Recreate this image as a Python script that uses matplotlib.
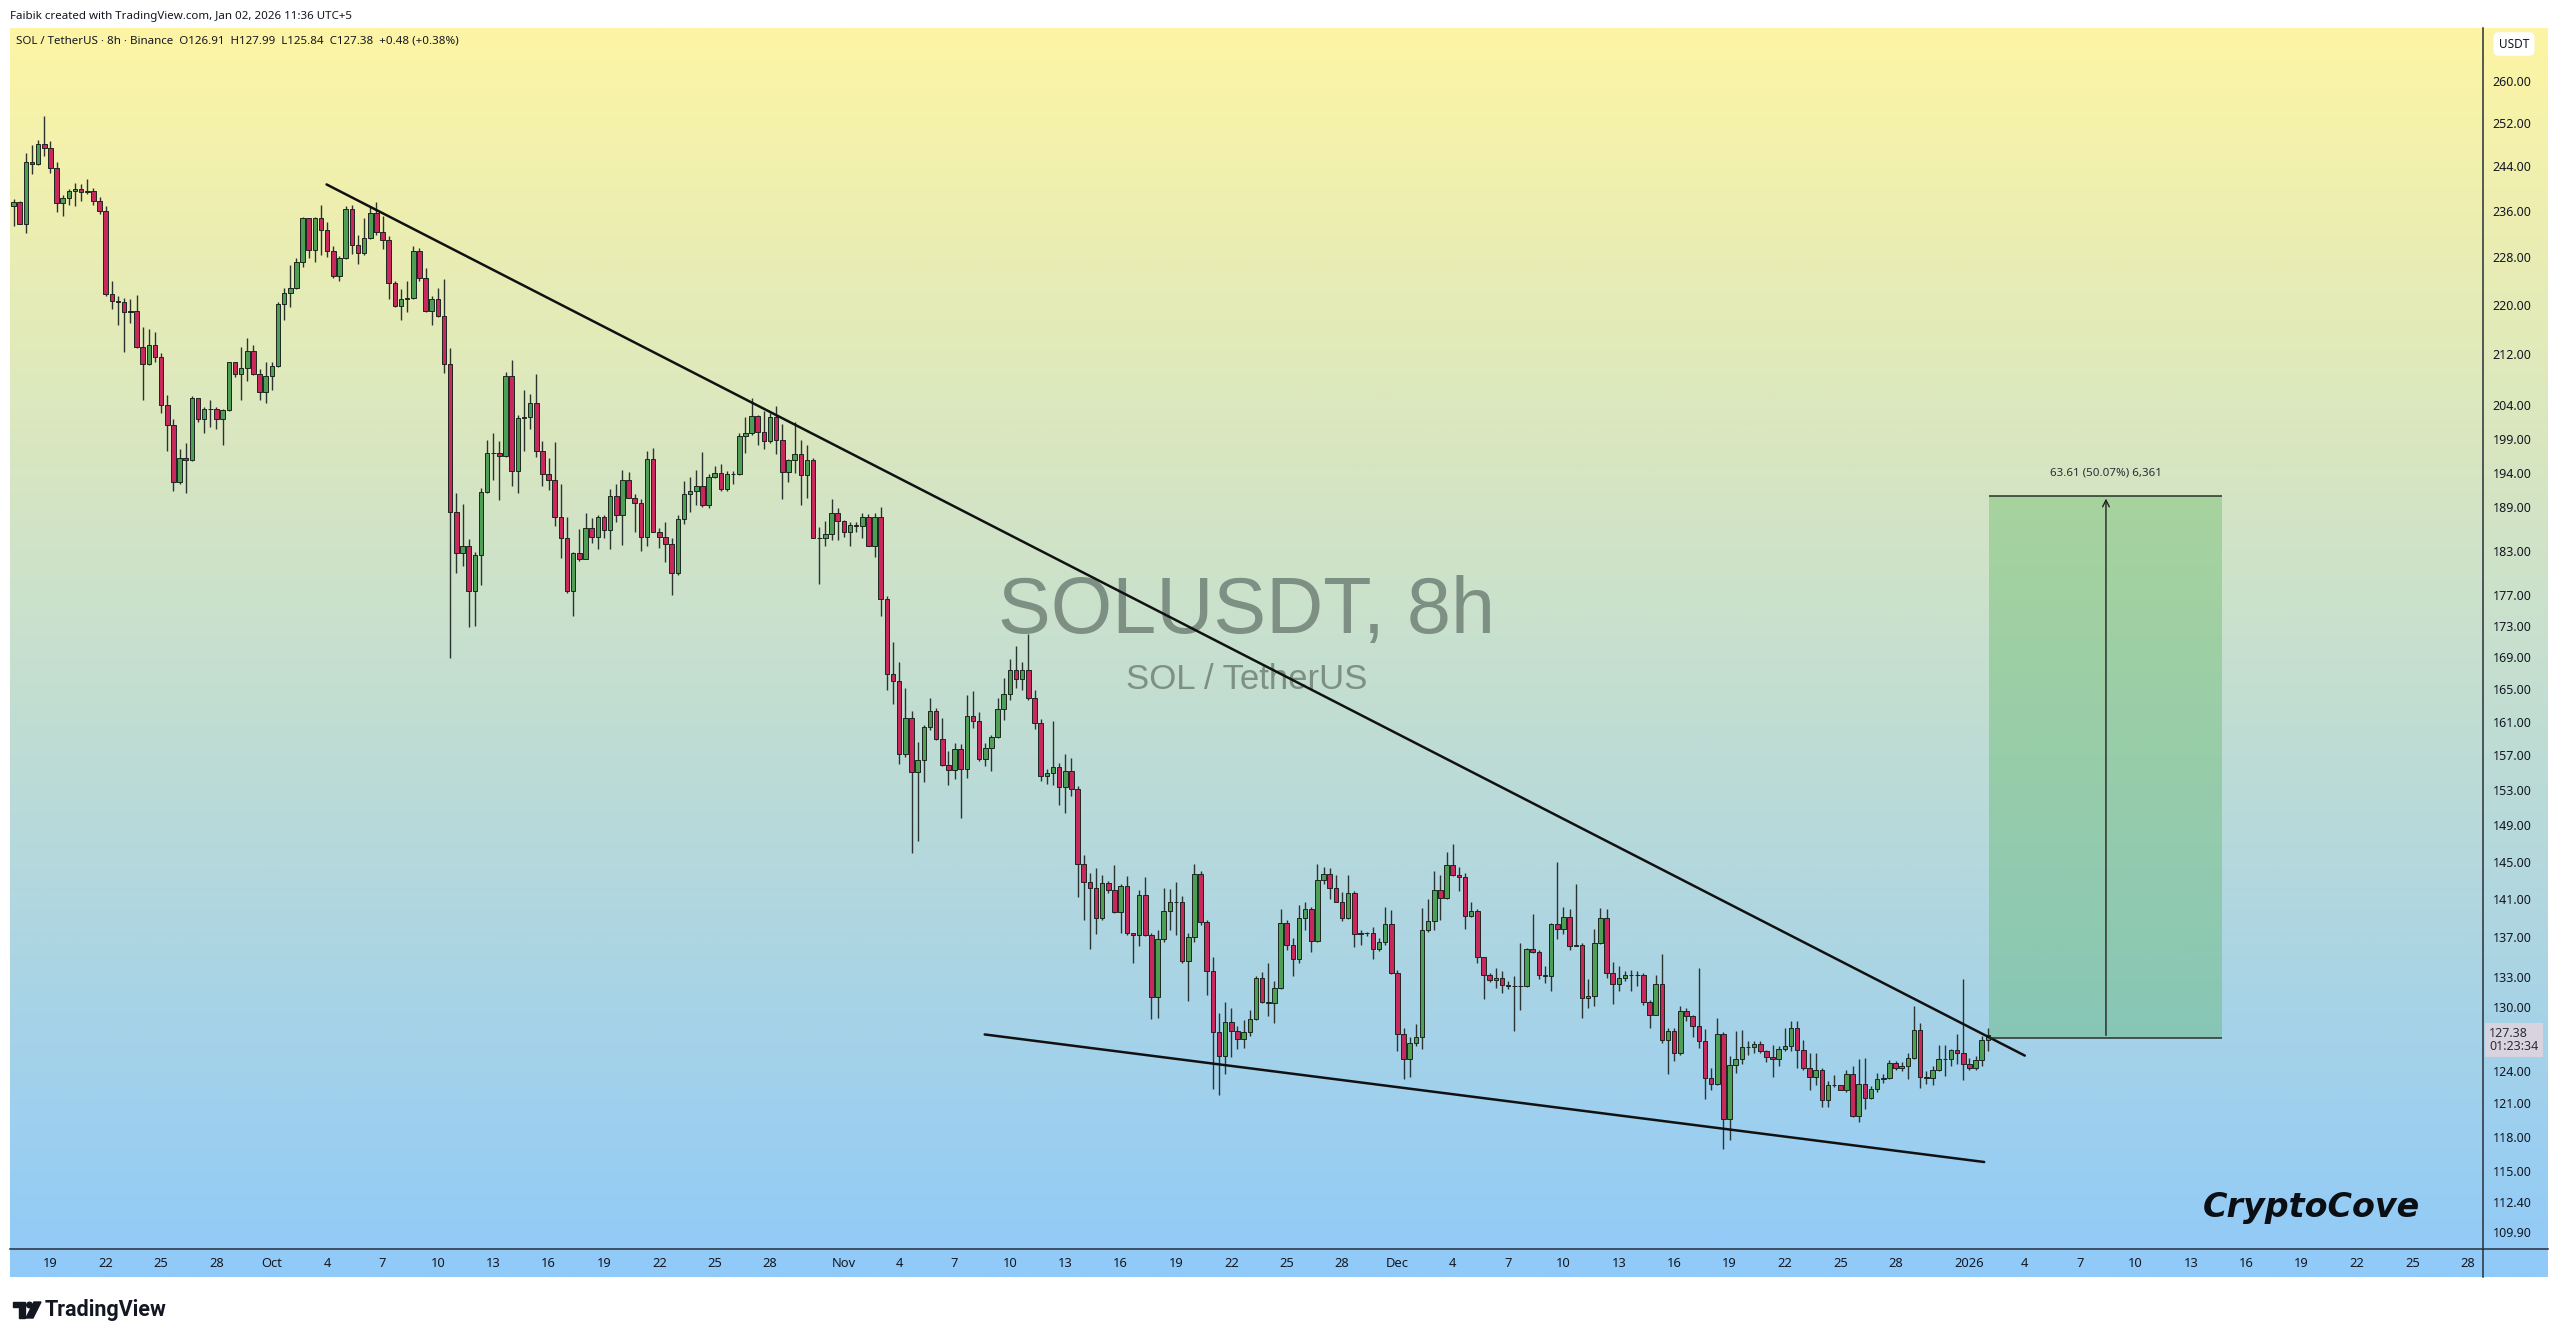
import numpy as np
import pandas as pd
import matplotlib
matplotlib.use('Agg')
import matplotlib.pyplot as plt
import matplotlib.transforms as mtransforms
from matplotlib.colors import LinearSegmentedColormap
from matplotlib.lines import Line2D
from matplotlib.patches import Polygon, Ellipse
from matplotlib.ticker import NullLocator

# SOL/USDT 8h candles, first candle 2025-09-17 00:00
start = pd.Timestamp('2025-09-17 00:00')
first_open = 236.8
closes = [
    237.6, 233.7, 244.7, 244.5, 248.1, 247.4, 243.7, 237.4, 238.3, 239.6,
    239.8, 239.4, 239.5, 237.8, 236.0, 221.7, 220.6, 220.4, 218.7, 219.0,
    213.1, 210.5, 213.5, 211.5, 204.0, 201.0, 192.6, 196.2, 195.9, 205.2,
    202.0, 203.4, 203.4, 202.0, 203.3, 210.7, 208.9, 209.8, 212.5, 208.9,
    206.0, 208.5, 210.1, 220.1, 221.9, 222.8, 227.1, 234.7, 229.2, 234.7,
    232.7, 229.0, 224.7, 227.8, 236.4, 230.0, 228.6, 231.2, 235.6, 232.3,
    230.9, 223.6, 219.8, 220.9, 221.1, 229.0, 224.4, 219.0, 220.9, 218.1,
    210.5, 188.3, 182.7, 183.7, 177.5, 182.4, 191.2, 196.9, 196.8, 196.5,
    208.5, 194.3, 202.1, 202.3, 204.4, 197.1, 193.8, 192.9, 187.6, 184.8,
    177.5, 182.7, 181.9, 186.1, 184.9, 187.6, 185.9, 190.7, 187.9, 192.9,
    190.4, 189.6, 184.9, 196.0, 185.6, 184.9, 183.9, 179.9, 187.4, 190.9,
    191.3, 192.1, 189.3, 193.4, 193.9, 191.7, 193.8, 193.8, 199.4, 199.8,
    202.4, 200.0, 198.6, 202.2, 198.8, 194.1, 195.8, 196.7, 193.7, 195.8,
    184.8, 184.7, 185.3, 188.2, 187.1, 185.6, 186.5, 186.4, 187.7, 183.7,
    187.7, 176.5, 166.8, 166.0, 157.1, 161.4, 155.0, 156.4, 160.4, 162.3,
    158.9, 155.9, 155.3, 157.7, 155.4, 161.7, 161.1, 156.6, 157.9, 159.2,
    162.5, 164.4, 167.4, 166.2, 167.3, 163.9, 160.8, 154.6, 154.9, 155.6,
    153.3, 155.2, 153.1, 144.7, 142.8, 142.2, 139.0, 142.7, 141.9, 139.6,
    142.4, 137.4, 137.2, 141.4, 137.2, 131.0, 136.8, 139.7, 140.7, 140.7,
    134.6, 137.0, 143.7, 138.6, 133.6, 127.6, 125.4, 128.6, 127.7, 127.0,
    127.6, 128.9, 132.9, 130.5, 130.4, 131.9, 138.5, 136.2, 134.8, 139.0,
    139.9, 136.6, 143.0, 143.7, 142.2, 140.7, 139.0, 141.6, 137.3, 137.4,
    137.5, 135.8, 136.5, 138.4, 133.4, 127.4, 125.1, 126.6, 127.2, 137.8,
    138.7, 141.9, 141.1, 144.6, 143.5, 143.3, 139.2, 139.7, 135.0, 133.2,
    132.7, 132.9, 132.2, 132.1, 132.1, 132.1, 135.8, 135.5, 133.2, 133.1,
    138.4, 137.9, 139.1, 136.1, 136.2, 130.9, 131.1, 136.4, 139.0, 133.4,
    132.3, 132.9, 133.2, 133.2, 133.2, 130.5, 129.3, 132.3, 126.9, 127.7,
    125.6, 129.7, 129.2, 128.2, 126.8, 123.3, 122.8, 127.4, 119.6, 124.5,
    125.1, 126.2, 126.2, 126.5, 125.8, 125.3, 125.1, 126.0, 126.3, 128.0,
    125.9, 124.2, 123.4, 124.1, 121.3, 122.7, 122.7, 122.2, 123.7, 119.9,
    122.8, 121.5, 122.3, 123.2, 123.3, 124.7, 124.2, 124.4, 125.2, 127.8,
    123.4, 123.3, 124.1, 125.1, 125.1, 125.9, 125.6, 124.6, 124.2, 125.0,
    126.9, 127.38,
]
highs = [
    238.1, 237.8, 246.5, 247.9, 248.9, 253.4, 248.6, 244.7, 238.8, 239.9,
    240.9, 240.8, 241.6, 240.1, 238.4, 236.8, 223.9, 221.4, 221.1, 220.9,
    221.6, 216.3, 216.0, 215.6, 212.2, 205.6, 201.9, 197.4, 198.3, 205.5,
    205.2, 203.7, 204.9, 203.7, 203.4, 210.8, 210.8, 213.2, 214.6, 213.5,
    209.6, 210.7, 210.8, 220.4, 222.7, 226.6, 227.8, 234.9, 234.8, 234.9,
    237.0, 234.1, 229.8, 228.1, 236.9, 237.1, 231.7, 234.7, 236.8, 237.6,
    235.1, 231.6, 223.9, 222.6, 224.0, 229.8, 229.6, 226.1, 221.4, 222.8,
    224.2, 212.9, 191.0, 189.5, 184.6, 182.8, 191.8, 198.8, 199.8, 198.6,
    209.1, 211.1, 202.6, 206.4, 205.8, 208.8, 198.7, 196.1, 198.5, 192.3,
    187.6, 182.8, 186.0, 188.2, 187.5, 187.9, 187.9, 191.6, 192.3, 194.4,
    194.1, 190.9, 190.2, 197.1, 197.6, 186.1, 186.9, 184.8, 187.9, 192.8,
    193.3, 194.4, 197.0, 193.8, 194.9, 195.2, 194.3, 194.3, 199.8, 202.2,
    205.2, 202.6, 203.1, 202.9, 203.9, 201.2, 196.0, 201.5, 198.8, 198.1,
    196.1, 186.2, 187.1, 190.2, 188.9, 187.2, 187.0, 187.0, 188.2, 188.1,
    188.2, 189.0, 176.9, 170.9, 168.4, 165.1, 162.3, 158.6, 160.6, 163.9,
    162.7, 161.4, 157.5, 158.5, 158.3, 164.3, 164.7, 162.2, 158.5, 159.4,
    163.9, 166.4, 168.8, 170.4, 168.4, 171.9, 164.9, 161.3, 155.4, 161.1,
    156.1, 157.1, 156.7, 153.4, 145.7, 143.8, 144.3, 143.5, 142.9, 144.6,
    142.6, 143.4, 137.5, 141.9, 143.3, 137.5, 137.8, 142.2, 142.1, 142.8,
    141.3, 137.5, 144.7, 144.0, 138.8, 135.0, 129.5, 130.5, 129.9, 128.2,
    128.8, 129.8, 133.1, 133.5, 134.4, 132.6, 139.9, 138.8, 136.9, 140.4,
    140.7, 140.1, 144.7, 144.4, 144.3, 143.5, 141.7, 143.5, 141.8, 137.8,
    137.6, 138.1, 136.9, 140.2, 139.8, 133.7, 128.0, 127.2, 128.4, 140.0,
    141.0, 144.0, 143.5, 146.0, 146.9, 144.4, 143.8, 140.7, 139.9, 135.0,
    133.4, 133.9, 133.6, 132.6, 133.1, 136.4, 135.9, 139.4, 135.7, 134.1,
    138.5, 144.9, 140.2, 139.9, 142.6, 136.4, 132.8, 137.9, 140.0, 139.9,
    134.5, 134.1, 133.6, 133.7, 133.6, 133.4, 130.7, 133.2, 135.3, 128.0,
    128.0, 130.1, 129.9, 129.3, 133.9, 127.9, 124.2, 129.0, 127.6, 125.4,
    127.7, 127.8, 126.8, 126.8, 126.8, 125.9, 126.4, 126.3, 128.0, 128.7,
    128.7, 126.9, 125.6, 125.6, 124.2, 123.0, 123.6, 122.7, 124.1, 124.4,
    125.1, 125.2, 122.6, 123.8, 123.7, 125.0, 124.9, 124.8, 125.6, 130.1,
    128.5, 124.0, 124.4, 126.4, 126.4, 126.0, 127.4, 132.8, 125.2, 125.4,
    127.3, 127.99,
]
lows = [
    233.4, 233.6, 232.1, 242.6, 244.3, 245.8, 242.8, 235.8, 235.1, 237.1,
    236.8, 237.8, 238.9, 237.1, 235.4, 221.4, 219.2, 216.7, 212.3, 217.0,
    213.0, 204.9, 210.2, 210.8, 202.9, 197.1, 191.3, 192.4, 191.0, 195.7,
    201.5, 199.8, 200.8, 200.4, 198.1, 203.2, 208.4, 204.8, 207.8, 208.7,
    204.8, 204.4, 206.4, 209.9, 217.5, 219.6, 222.6, 226.3, 227.8, 227.1,
    228.3, 228.0, 224.4, 224.0, 227.7, 228.5, 226.8, 228.3, 231.1, 231.7,
    229.4, 220.9, 219.6, 217.5, 218.8, 220.9, 224.0, 218.8, 216.7, 217.9,
    209.0, 168.9, 180.0, 180.9, 172.8, 173.0, 178.3, 191.0, 192.9, 190.1,
    196.3, 192.1, 191.0, 197.1, 200.4, 196.3, 192.1, 191.5, 186.4, 182.0,
    177.3, 174.2, 181.6, 181.8, 184.0, 183.2, 184.8, 183.2, 186.9, 183.8,
    190.3, 185.5, 182.9, 183.7, 185.5, 183.4, 181.4, 177.0, 179.7, 186.7,
    188.4, 189.3, 189.0, 188.9, 193.2, 191.3, 191.4, 192.3, 193.7, 196.9,
    199.6, 198.1, 197.4, 198.4, 196.7, 190.2, 192.7, 193.9, 189.4, 190.4,
    184.7, 178.5, 183.7, 184.4, 184.4, 184.9, 183.7, 185.6, 184.7, 183.6,
    182.1, 174.2, 164.9, 163.1, 156.0, 156.8, 145.9, 147.3, 153.9, 160.0,
    158.8, 155.7, 153.6, 154.3, 149.8, 154.4, 160.3, 156.3, 155.7, 155.2,
    159.1, 161.2, 163.6, 165.1, 164.9, 163.6, 160.1, 154.0, 153.7, 153.6,
    151.3, 150.4, 152.3, 141.2, 138.8, 135.8, 137.3, 138.8, 141.6, 139.5,
    137.5, 137.2, 134.4, 136.1, 137.1, 128.9, 129.0, 136.5, 137.8, 137.2,
    134.4, 130.6, 136.5, 138.3, 131.2, 122.3, 121.8, 123.7, 125.3, 126.0,
    126.1, 127.3, 128.8, 130.4, 129.2, 128.5, 131.8, 135.7, 133.1, 134.4,
    137.8, 135.5, 136.5, 142.6, 141.0, 140.7, 138.7, 138.9, 136.0, 136.2,
    137.1, 134.8, 135.6, 136.2, 133.3, 125.8, 123.2, 123.4, 126.3, 126.0,
    137.6, 137.8, 138.8, 141.0, 143.4, 141.8, 137.9, 139.1, 134.4, 130.8,
    132.5, 131.9, 131.4, 131.8, 127.7, 129.8, 132.0, 135.4, 132.8, 132.4,
    131.6, 136.8, 137.3, 135.7, 136.2, 129.0, 129.9, 130.1, 136.3, 132.9,
    130.3, 131.6, 132.6, 131.6, 132.1, 130.2, 128.0, 129.3, 126.6, 123.7,
    124.9, 125.5, 128.7, 127.2, 126.1, 121.4, 122.2, 122.7, 116.9, 117.7,
    123.8, 124.6, 125.5, 125.6, 125.6, 124.8, 123.4, 124.4, 125.8, 125.8,
    124.2, 124.1, 122.2, 122.7, 120.7, 120.7, 122.5, 122.2, 122.0, 119.8,
    119.3, 120.5, 121.4, 122.0, 122.9, 123.2, 124.1, 124.0, 123.2, 125.1,
    122.4, 122.8, 122.7, 124.0, 123.5, 124.4, 124.6, 123.1, 124.1, 124.1,
    124.4, 125.84,
]

price_ticks = [260, 252, 244, 236, 228, 220, 212, 204, 199, 194, 189, 183,
               177, 173, 169, 165, 161, 157, 153, 149, 145, 141, 137, 133,
               130, 124, 121, 118, 115, 112.4, 109.9]
tick_days = [1, 4, 7, 10, 13, 16, 19, 22, 25, 28]
tick_months = [(2025, 9, 'Sep'), (2025, 10, 'Oct'), (2025, 11, 'Nov'),
               (2025, 12, 'Dec'), (2026, 1, '2026')]

# drawings on the chart (candle index, price)
upper_trend_x = [50.9, 327.0]
upper_trend_y = [240.7, 125.4]
lower_trend_x = [157.9, 320.4]
lower_trend_y = [127.4, 115.8]
box_x = [321.2, 359.1]
entry_price = 127.05
target_price = 190.66
arrow_x = 340.2
box_label = '63.61 (50.07%) 6,361'
last_price = 127.38

W, H = 2560, 1339
fig = plt.figure(figsize=(W / 100, H / 100), dpi=100)
fig.patch.set_facecolor('white')


def fx(p):
    return p / W


def fy(p):
    return 1 - p / H


# gradient background of the chart panel
bg = fig.add_axes([fx(10), fy(1277), fx(2548) - fx(10), fy(28) - fy(1277)])
grad = np.linspace(0, 1, 512).reshape(-1, 1)
cmap = LinearSegmentedColormap.from_list('bg', ['#fdf5a4', '#90caf9'])
bg.imshow(grad, aspect='auto', cmap=cmap, extent=[0, 1, 0, 1], origin='upper')
bg.set_axis_off()

ax = fig.add_axes([fx(10), fy(1249), fx(2483) - fx(10), fy(28) - fy(1249)])
ax.set_facecolor('none')
ax.set_yscale('log')
ax.set_ylim(108.5, 270.6)
ax.set_xlim(-0.57, 401.5)

# watermark
ax.text(0.5002, 0.5217, 'SOLUSDT, 8h', transform=ax.transAxes, ha='center', va='center',
        fontsize=57, color='#7e8f84', family='Liberation Sans', zorder=0)
ax.text(0.5002, 0.4668, 'SOL / TetherUS', transform=ax.transAxes, ha='center', va='center',
        fontsize=25, color='#7e8f84', family='Liberation Sans', zorder=0)

# candles
c = np.array(closes)
h = np.array(highs)
l = np.array(lows)
o = np.array([first_open] + closes[:-1])
idx = np.arange(len(c))
top = np.maximum(o, c)
bot = np.minimum(o, c)
up = c >= o
ax.vlines(idx, np.minimum(l, bot), np.maximum(h, top), color='#2b3430', lw=1.0, zorder=3)
ax.bar(idx, top - bot, bottom=bot, width=0.74,
       color=np.where(up, '#4f9e55', '#c8285c'), edgecolor='#1d2620',
       linewidth=0.7, zorder=4)

# trendlines
ax.plot(upper_trend_x, upper_trend_y, color='#111111', lw=1.8, zorder=5,
        solid_capstyle='round')
ax.plot(lower_trend_x, lower_trend_y, color='#111111', lw=1.8, zorder=5,
        solid_capstyle='round')

# long position target box
ax.fill_between(box_x, entry_price, target_price, color='#4caf50', alpha=0.33,
                lw=0, zorder=2)
ax.hlines([entry_price, target_price], box_x[0], box_x[1], color='#2b2f2b', lw=1.1, zorder=5)
ax.annotate('', xy=(arrow_x, target_price), xytext=(arrow_x, entry_price),
            arrowprops=dict(arrowstyle='->', color='#222222', lw=1.0, mutation_scale=12),
            zorder=5)
ax.annotate(box_label, xy=(arrow_x, target_price), xytext=(0, 16.5),
            textcoords='offset points', ha='center', va='center', fontsize=8.3,
            color='#2a2e39', family='Noto Sans')

# price axis
ax.yaxis.tick_right()
ax.set_yticks(price_ticks)
ax.set_yticklabels([f'{v:.2f}' for v in price_ticks])
ax.yaxis.set_minor_locator(NullLocator())
ax.tick_params(axis='y', which='both', length=0, pad=7, labelsize=9,
               labelcolor='#131722')
for lab in ax.get_yticklabels():
    lab.set_family('Noto Sans')

# time axis
tick_pos, tick_lab = [], []
for yy, mm, name in tick_months:
    for d in tick_days:
        t = pd.Timestamp(year=yy, month=mm, day=d)
        pos = (t - start) / pd.Timedelta(hours=8)
        if pos < 0:
            continue
        tick_pos.append(pos)
        tick_lab.append(name if d == 1 else str(d))
ax.set_xticks(tick_pos)
ax.set_xticklabels(tick_lab)
ax.tick_params(axis='x', length=0, pad=6, labelsize=9.3, labelcolor='#131722')
for lab in ax.get_xticklabels():
    lab.set_family('Noto Sans')

for s in ax.spines.values():
    s.set_visible(False)
fig.add_artist(Line2D([fx(2483), fx(2483)], [fy(28), fy(1277)], color='#2a2e39', lw=1.1))
fig.add_artist(Line2D([fx(10), fx(2548)], [fy(1249), fy(1249)], color='#2a2e39', lw=1.1))

# current price label
trans = mtransforms.blended_transform_factory(ax.transAxes, ax.transData)
ax.text(1.0025, 126.85, f'{last_price:.2f}\n01:23:34', transform=trans, ha='left',
        va='center', fontsize=9, color='#2a2e39', family='Noto Sans', linespacing=1.0,
        bbox=dict(facecolor='#d8d3de', edgecolor='none', pad=3), clip_on=False)

# header texts
fig.text(fx(10), fy(17), 'Faibik created with TradingView.com, Jan 02, 2026 11:36 UTC+5',
         fontsize=8.3, color='#131722', va='center', family='Noto Sans')
fig.text(fx(16), fy(41),
         'SOL / TetherUS \u00b7 8h \u00b7 Binance  O126.91  H127.99  L125.84  C127.38  +0.48 (+0.38%)',
         fontsize=8.3, color='#131722', va='center', family='Noto Sans')
fig.text(fx(2514), fy(44), 'USDT', ha='center', va='center', fontsize=8.5,
         color='#131722', family='Noto Sans',
         bbox=dict(boxstyle='round,pad=0.45', facecolor='white', edgecolor='none'))

# signature
fig.text(fx(2311), fy(1207), 'CryptoCove', ha='center', va='center', fontsize=24,
         fontweight='bold', style='italic', family='DejaVu Sans', color='#0b0f14')

# TradingView logo
fig.add_artist(Polygon([(fx(13), fy(1302)), (fx(25), fy(1302)), (fx(25), fy(1318)),
                        (fx(19), fy(1318)), (fx(19), fy(1307)), (fx(13), fy(1307))],
                       closed=True, transform=fig.transFigure, color='#131722'))
fig.add_artist(Ellipse((fx(29.5), fy(1305)), 5.6 / W, 5.6 / H,
                       transform=fig.transFigure, color='#131722'))
fig.add_artist(Polygon([(fx(34), fy(1302)), (fx(41), fy(1302)), (fx(33), fy(1318)),
                        (fx(26), fy(1318))],
                       closed=True, transform=fig.transFigure, color='#131722'))
fig.text(fx(45), fy(1310), 'TradingView', fontsize=15.5, fontweight='bold',
         family='Roboto', color='#131722', va='center')

fig.savefig('out.png', dpi=100)
